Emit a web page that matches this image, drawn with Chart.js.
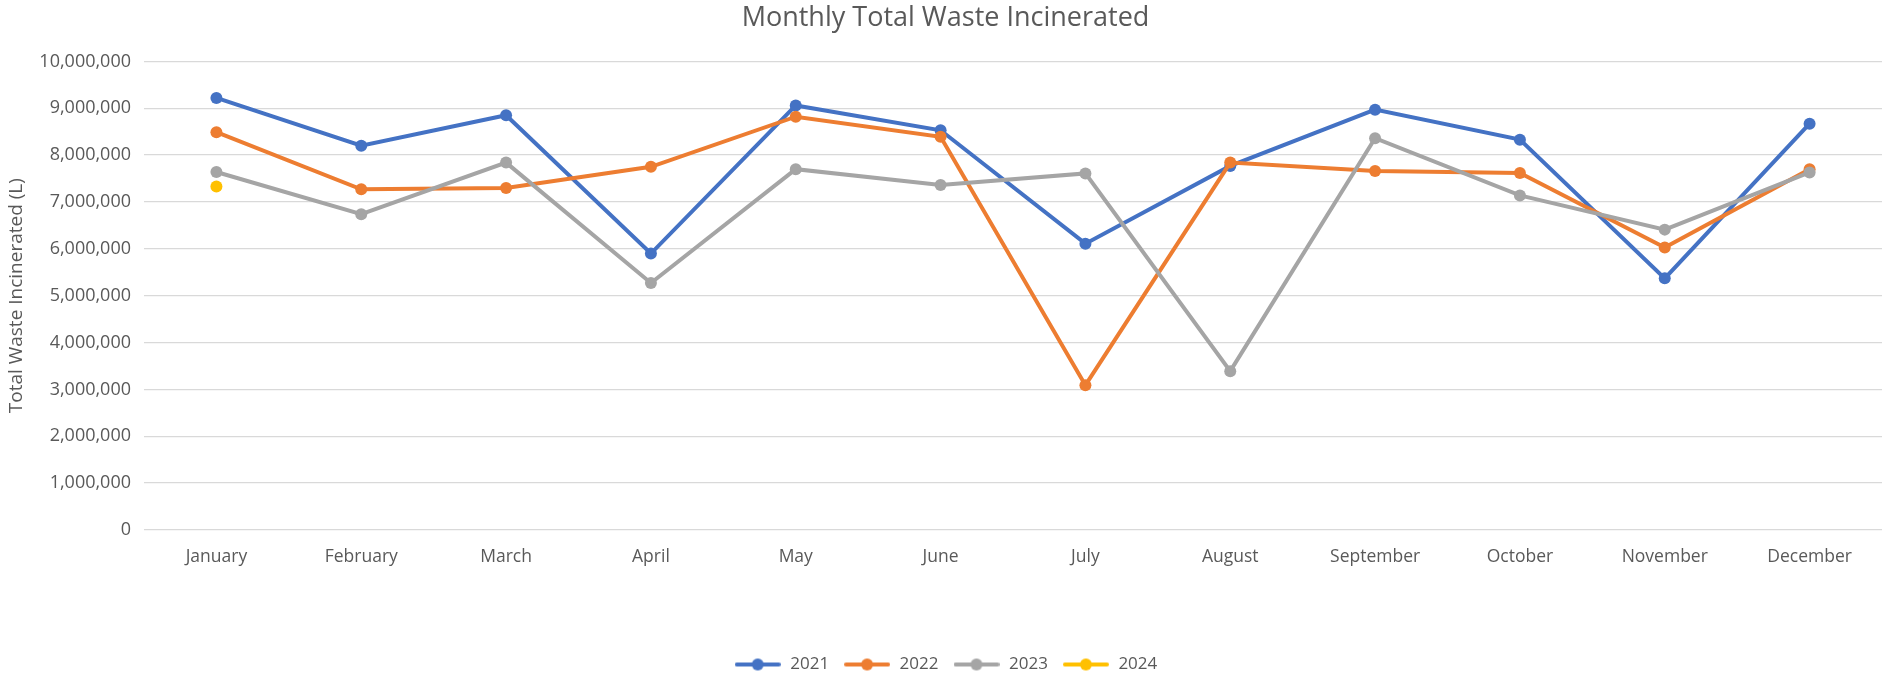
<!DOCTYPE html>
<html lang="en">
<head>
  <meta charset="UTF-8">
  <title>Monthly Total Waste Incinerated</title>
  <script src="https://cdn.jsdelivr.net/npm/chart.js"></script>
  <style>
    html, body {
      margin: 0;
      padding: 0;
      background: #fff;
    }
    #wrap {
      width: 1888px;
      height: 677px;
    }
  </style>
</head>
<body>
  <div id="wrap"><canvas id="wasteChart"></canvas></div>

  <script>
    const months = ['January', 'February', 'March', 'April', 'May', 'June',
      'July', 'August', 'September', 'October', 'November', 'December'];

    // litres per month
    const waste2021 = [9220000, 8200000, 8850000, 5900000, 9060000, 8530000, 6110000, 7770000, 8970000, 8330000, 5370000, 8670000];
    const waste2022 = [8490000, 7270000, 7300000, 7750000, 8820000, 8390000, 3090000, 7840000, 7660000, 7620000, 6030000, 7700000];
    const waste2023 = [7640000, 6740000, 7840000, 5270000, 7700000, 7360000, 7610000, 3390000, 8360000, 7140000, 6410000, 7630000];
    const waste2024 = [7330000, null, null, null, null, null, null, null, null, null, null, null];

    const years = ['2021', '2022', '2023', '2024'];
    const colours = ['#4472C4', '#ED7D31', '#A5A5A5', '#FFC000'];
    const yTicks = [0, 1000000, 2000000, 3000000, 4000000, 5000000, 6000000, 7000000, 8000000, 9000000, 10000000];

    const font = "'Open Sans', 'Liberation Sans', sans-serif";
    const textColour = '#595959';

    // little line-with-dot markers for the legend
    function legendMark(colour) {
      const c = document.createElement('canvas');
      c.width = 46;
      c.height = 14;
      const g = c.getContext('2d');
      g.strokeStyle = colour;
      g.lineWidth = 4;
      g.lineCap = 'round';
      g.beginPath();
      g.moveTo(2, 7);
      g.lineTo(44, 7);
      g.stroke();
      g.fillStyle = colour;
      g.beginPath();
      g.arc(23, 7, 6, 0, Math.PI * 2);
      g.fill();
      return c;
    }
    const marks = colours.map(legendMark);

    const series = [waste2021, waste2022, waste2023, waste2024];
    const datasets = series.map((vals, i) => ({
      label: years[i],
      data: vals,
      borderColor: colours[i],
      backgroundColor: colours[i],
      borderWidth: 4,
      pointRadius: 6,
      pointHoverRadius: 6,
      pointBorderWidth: 0,
      tension: 0,
      spanGaps: false,
      order: years.length - i
    }));

    new Chart(document.getElementById('wasteChart'), {
      type: 'line',
      data: { labels: months, datasets: datasets },
      options: {
        responsive: true,
        maintainAspectRatio: false,
        animation: false,
        layout: { padding: { left: 5, right: 2, top: 2, bottom: -6 } },
        plugins: {
          title: {
            display: true,
            text: 'Monthly Total Waste Incinerated',
            color: textColour,
            font: { family: font, size: 27, weight: 'normal' },
            padding: { top: 0, bottom: 27 }
          },
          legend: {
            position: 'bottom',
            labels: {
              usePointStyle: true,
              pointStyleWidth: 48,
              padding: 14,
              color: textColour,
              font: { family: font, size: 17 },
              sort: (a, b) => a.datasetIndex - b.datasetIndex,
              generateLabels: chart => {
                const items = Chart.defaults.plugins.legend.labels.generateLabels(chart);
                items.forEach(it => { it.pointStyle = marks[it.datasetIndex]; });
                return items;
              }
            }
          },
          tooltip: { enabled: false }
        },
        scales: {
          x: {
            offset: true,
            grid: { display: false },
            border: { display: false },
            ticks: {
              color: textColour,
              padding: 9,
              maxRotation: 0,
              font: { family: font, size: 17.5 }
            },
            afterFit: s => { s.height = 112; }
          },
          y: {
            min: 0,
            max: 10000000,
            border: { display: false },
            grid: { color: '#D9D9D9', lineWidth: 1.3, drawTicks: false },
            afterBuildTicks: s => { s.ticks = yTicks.map(v => ({ value: v })); },
            afterFit: s => { s.width = 139; },
            ticks: {
              color: textColour,
              padding: 13,
              font: { family: font, size: 18 },
              callback: v => v.toLocaleString('en-US')
            },
            title: {
              display: true,
              text: 'Total Waste Incinerated (L)',
              color: textColour,
              padding: 0,
              font: { family: font, size: 19 }
            }
          }
        }
      }
    });
  </script>
</body>
</html>
